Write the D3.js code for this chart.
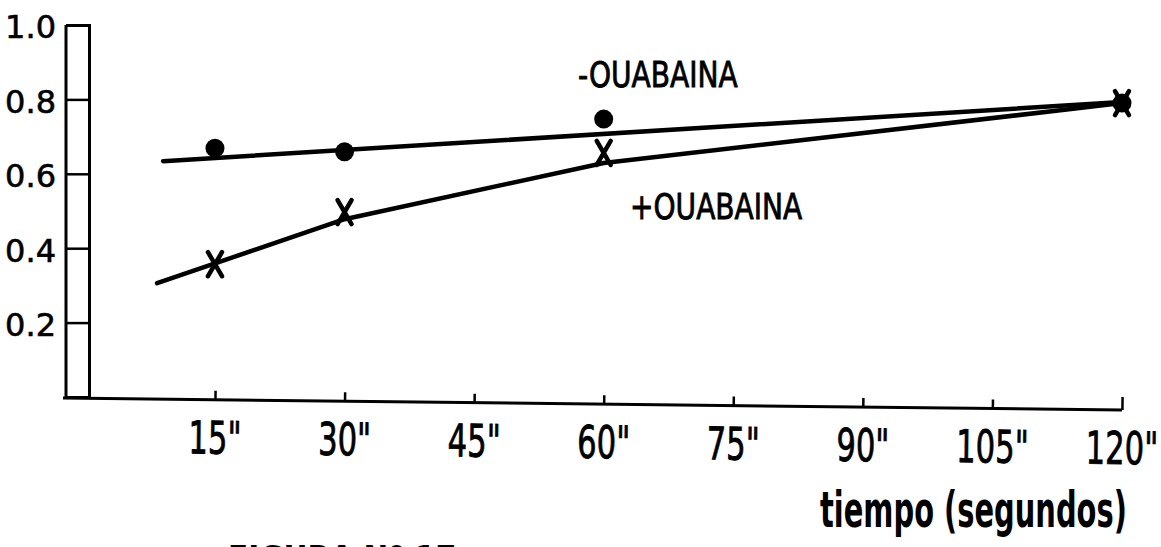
<!DOCTYPE html>
<html>
<head>
<meta charset="utf-8">
<script src="https://cdn.jsdelivr.net/npm/d3@7"></script>
<style>
  body { margin: 0; background: #fff; }
  svg { display: block; }
</style>
</head>
<body>
<script>
let tiempos = [15, 30, 60, 120];
let sinOuabaina = [0.669, 0.659, 0.747, 0.790];
let conOuabaina = [0.357, 0.497, 0.656, 0.790];

// rectas trazadas a mano por el autor
let ajusteSinT = [9, 120];
let ajusteSinV = [0.634, 0.793];
let ajusteConT = [8.3, 30, 60, 120];
let ajusteConV = [0.306, 0.478, 0.629, 0.790];

let xTicks = [15, 30, 45, 60, 75, 90, 105, 120];
let yTicks = [0.2, 0.4, 0.6, 0.8, 1.0];

let width = 1161;
let height = 547;
let font = "'DejaVu Sans', sans-serif";

let x = d3.scaleLinear().domain([0, 120]).range([85.4, 1122]);
let y = d3.scaleLinear().domain([0, 1]).range([397, 25]);

let svg = d3.select("body")
            .append("svg")
            .attr("width", width)
            .attr("height", height);

// eje y: caja estrecha con divisiones
let yAxis = svg.append("g")
               .attr("transform", "translate(89,0)")
               .call(d3.axisLeft(y).tickValues(yTicks).tickSize(23).tickSizeOuter(23)
                       .tickPadding(10).tickFormat(d3.format(".1f")));
yAxis.select(".domain").attr("stroke", "#000").attr("stroke-width", 3).attr("fill", "none");
yAxis.selectAll(".tick line").attr("stroke", "#000").attr("stroke-width", 2.5);
yAxis.selectAll(".tick text")
     .attr("dy", "0.4em")
     .style("font-family", font)
     .style("font-size", "32px")
     .attr("fill", "#000")
     .attr("stroke", "#000").attr("stroke-width", 0.6);
svg.append("line")
   .attr("x1", 66).attr("x2", 66)
   .attr("y1", y(1)).attr("y2", y(0) + 1)
   .attr("stroke", "#000").attr("stroke-width", 3);

// eje x (ligeramente inclinado como en el original)
let xAxis = svg.append("g")
               .attr("transform", "translate(0,398) rotate(0.65,63,0)")
               .call(d3.axisBottom(x).tickValues(xTicks).tickSize(-9).tickPadding(22)
                       .tickFormat(d => d + '"'));
xAxis.select(".domain").remove();
xAxis.append("line")
     .attr("x1", 63).attr("x2", x(120))
     .attr("stroke", "#000").attr("stroke-width", 3);
xAxis.selectAll(".tick line").attr("stroke", "#000").attr("stroke-width", 2.5);
xAxis.selectAll(".tick line").filter(d => d === 120).attr("y2", -13);
xAxis.selectAll(".tick text")
     .attr("transform", "scale(0.68,1)")
     .style("font-family", font)
     .style("font-size", "45px")
     .attr("fill", "#000")
     .attr("stroke", "#000").attr("stroke-width", 0.9);

// rectas
let line = d3.line()
             .x(d => x(d[0]))
             .y(d => y(d[1]));

svg.append("path")
   .datum(d3.zip(ajusteSinT, ajusteSinV))
   .attr("d", line)
   .attr("fill", "none").attr("stroke", "#000")
   .attr("stroke-width", 4.5).attr("stroke-linecap", "round").attr("stroke-linejoin", "round");

svg.append("path")
   .datum(d3.zip(ajusteConT, ajusteConV))
   .attr("d", line)
   .attr("fill", "none").attr("stroke", "#000")
   .attr("stroke-width", 4.5).attr("stroke-linecap", "round").attr("stroke-linejoin", "round");

// puntos: circulos (- ouabaina), cruces (+ ouabaina)
svg.selectAll(".dot")
   .data(d3.zip(tiempos, sinOuabaina))
   .enter().append("circle")
   .attr("class", "dot")
   .attr("cx", d => x(d[0]))
   .attr("cy", d => y(d[1]))
   .attr("r", 9.5)
   .attr("fill", "#000");

svg.selectAll(".cross")
   .data(d3.zip(tiempos, conOuabaina))
   .enter().append("path")
   .attr("class", "cross")
   .attr("transform", d => `translate(${x(d[0])},${y(d[1])})`)
   .attr("d", "M-7,-12L7,12M7,-12L-7,12")
   .attr("fill", "none").attr("stroke", "#000")
   .attr("stroke-width", 4.5).attr("stroke-linecap", "round");

// rotulos
function rotulo(txt, px, py, size, sx, peso, trazo) {
  svg.append("text")
     .attr("transform", `translate(${px},${py}) scale(${sx},1)`)
     .style("font-family", font)
     .style("font-weight", peso)
     .style("font-size", size + "px")
     .attr("fill", "#000")
     .attr("stroke", "#000").attr("stroke-width", trazo)
     .text(txt);
}
rotulo("-OUABAINA", 578, 87, 36, 0.78, "normal", 0.9);
rotulo("+OUABAINA", 630, 219, 36, 0.78, "normal", 0.9);
rotulo("tiempo (segundos)", 820, 527, 49, 0.59, "bold", 0);
rotulo("FIGURA Nº 17", 228, 570, 34, 0.87, "bold", 0);
</script>
</body>
</html>
